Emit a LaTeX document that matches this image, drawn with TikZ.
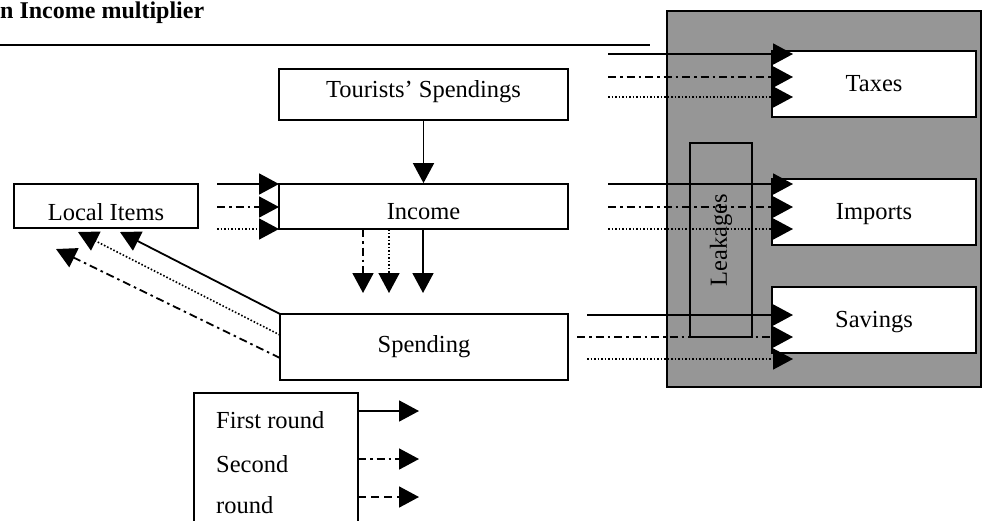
\documentclass[tikz,border=0pt]{standalone}
\usepackage{fontspec}
\setmainfont{Liberation Serif}
\usetikzlibrary{arrows.meta}
\definecolor{grayfill}{RGB}{150,150,150}
\newcommand\shifttext[2]{\raisebox{#1}[\height][\depth]{#2}}
\begin{document}
\begin{tikzpicture}[x=1pt,y=-1pt,
  txt/.style={font=\fontsize{24.5}{28}\selectfont, inner sep=0pt},
  box/.style={draw, line width=1.8pt, fill=white, inner sep=0pt, font=\fontsize{24.5}{28}\selectfont},
  ln/.style={line width=1.8pt, -{Triangle[length=20pt,width=21pt]}},
  sol/.style={ln},
  dd/.style={ln, dash pattern=on 8pt off 4pt on 2.5pt off 4pt},
  dt/.style={ln, line width=1.6pt, dash pattern=on 1.6pt off 1.9pt},
  dsh/.style={ln, dash pattern=on 8pt off 5pt}]
\useasboundingbox (0,0) rectangle (982,520);
\clip (0,0) rectangle (982,520);

% title
\node[anchor=base west, inner sep=0pt, font=\fontsize{24}{28}\selectfont\bfseries] (title) at (0,18) {n Income multiplier};
\coordinate (tl1) at (0,45);
\coordinate (tl2) at (650,45);
\draw[line width=1.8pt] (tl1) -- (tl2);

% leakage area
\node[draw, line width=1.8pt, fill=grayfill, inner sep=0pt, minimum width=314pt, minimum height=376pt] (area) at (824,199) {};

% boxes
\node[box, minimum width=289pt, minimum height=51pt] (tour) at (423.5,94.5) {\shifttext{3pt}{Tourists’ Spendings}};
\node[box, minimum width=289pt, minimum height=45pt] (income) at (423.5,206.5) {\shifttext{-5pt}{Income}};
\node[box, minimum width=288pt, minimum height=66pt] (spend) at (424,347) {Spending};
\node[box, minimum width=184pt, minimum height=44pt] (local) at (106,206) {\shifttext{-6pt}{Local Items}};
\node[box, minimum width=204pt, minimum height=66pt] (taxes) at (874,84) {Taxes};
\node[box, minimum width=204pt, minimum height=66pt] (imports) at (874,212) {\shifttext{-2pt}{Imports}};
\node[box, minimum width=204pt, minimum height=66pt] (savings) at (874,320) {\shifttext{-2pt}{Savings}};

% tourists -> income
\draw[sol] (tour.south) -- (income.north);

% into income from left
\coordinate (i1) at (217,184); \coordinate (i2) at (217,207); \coordinate (i3) at (217,229);
\coordinate (i1e) at (279,184); \coordinate (i2e) at (279,207); \coordinate (i3e) at (279,229);
\draw[sol] (i1) -- (i1e);
\draw[dd] (i2) -- (i2e);
\draw[dt] (i3) -- (i3e);

% income down
\coordinate (d1) at (363,229); \coordinate (d2) at (389,229); \coordinate (d3) at (423,229);
\coordinate (d1e) at (363,293); \coordinate (d2e) at (389,293); \coordinate (d3e) at (423,293);
\draw[dd] (d1) -- (d1e);
\draw[dt] (d2) -- (d2e);
\draw[sol] (d3) -- (d3e);

% spending -> local items
\coordinate (s1) at (280,314); \coordinate (s2) at (280,335); \coordinate (s3) at (280,358);
\coordinate (s1e) at (120,232); \coordinate (s2e) at (78,232); \coordinate (s3e) at (56,249);
\draw[sol] (s1) -- (s1e);
\draw[dt] (s2) -- (s2e);
\draw[dd] (s3) -- (s3e);

% taxes
\coordinate (a1) at (608,54); \coordinate (a2) at (608,77); \coordinate (a3) at (608,97);
\coordinate (a1e) at (793,54); \coordinate (a2e) at (793,77); \coordinate (a3e) at (793,97);
\draw[sol] (a1) -- (a1e);
\draw[dd] (a2) -- (a2e);
\draw[dt] (a3) -- (a3e);

% imports
\coordinate (b1) at (608,184); \coordinate (b2) at (608,207); \coordinate (b3) at (608,229);
\coordinate (b1e) at (793,184); \coordinate (b2e) at (793,207); \coordinate (b3e) at (793,229);
\draw[sol] (b1) -- (b1e);
\draw[dd] (b2) -- (b2e);
\draw[dt] (b3) -- (b3e);

% savings
\coordinate (c1) at (587,315); \coordinate (c2) at (577,337); \coordinate (c3) at (587,359);
\coordinate (c1e) at (793,315); \coordinate (c2e) at (793,337); \coordinate (c3e) at (793,359);
\draw[sol] (c1) -- (c1e);
\draw[dd] (c2) -- (c2e);
\draw[dt] (c3) -- (c3e);

% leakages box
\node[draw, line width=1.8pt, rotate=90, inner sep=0pt, minimum width=194pt, minimum height=62pt, font=\fontsize{24.5}{28}\selectfont] (leak) at (721,240) {Leakages};

% legend
\node[draw, line width=1.8pt, fill=white, inner sep=0pt, minimum width=164pt, minimum height=150pt] (legend) at (276,468) {};
\node[txt, anchor=base west] (lg1) at (216,428) {First round};
\node[txt, anchor=base west] (lg2) at (216,472) {Second};
\node[txt, anchor=base west] (lg3) at (216,513) {round};
\coordinate (l1) at (358,411); \coordinate (l2) at (358,459); \coordinate (l3) at (358,497);
\coordinate (l1e) at (419,411); \coordinate (l2e) at (419,459); \coordinate (l3e) at (419,497);
\draw[sol] (l1) -- (l1e);
\draw[dd] (l2) -- (l2e);
\draw[dsh] (l3) -- (l3e);
\end{tikzpicture}
\end{document}
